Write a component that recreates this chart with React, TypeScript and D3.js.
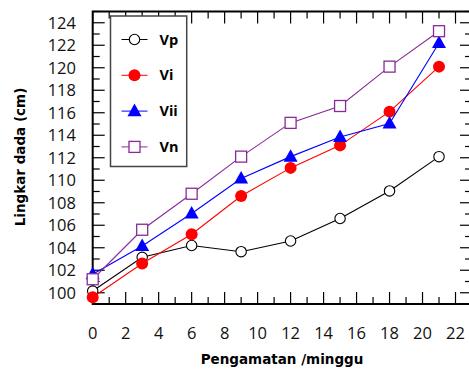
import { line, scaleLinear, range } from 'd3';

const weeks = [0, 3, 6, 9, 12, 15, 18, 21];
const vp = [100.15, 103.15, 104.2, 103.65, 104.6, 106.6, 109.05, 112.1];
const vi = [99.6, 102.6, 105.2, 108.6, 111.1, 113.1, 116.1, 120.1];
const vii = [101.65, 104.15, 107.05, 110.15, 112.1, 113.85, 115.05, 122.2];
const vn = [101.2, 105.6, 108.8, 112.1, 115.1, 116.6, 120.1, 123.25];
const seriesNames = ['Vp', 'Vi', 'Vii', 'Vn'];
const xTickLabels = [0, 2, 4, 6, 8, 10, 12, 14, 16, 18, 20, 22];
const yTickLabels = [100, 102, 104, 106, 108, 110, 112, 114, 116, 118, 120, 122, 124];

const width = 469;
const height = 372;
const plot = { left: 92.7, right: 472, top: 11.5, bottom: 304 };

const series = [
  { name: seriesNames[0], values: vp, color: '#000000', marker: 'openCircle' },
  { name: seriesNames[1], values: vi, color: '#ff0000', marker: 'dot' },
  { name: seriesNames[2], values: vii, color: '#0000ff', marker: 'triangle' },
  { name: seriesNames[3], values: vn, color: '#8a2a98', marker: 'square' },
];

function Marker({ kind, x, y, color }: { kind: string; x: number; y: number; color: string }) {
  if (kind === 'openCircle') {
    return <circle cx={x} cy={y} r={5.2} fill="#fff" stroke={color} strokeWidth={1.1} />;
  }
  if (kind === 'dot') {
    return <circle cx={x} cy={y} r={6} fill={color} />;
  }
  if (kind === 'triangle') {
    const s = 7;
    return <path d={`M${x},${y - s - 0.5}L${x + s},${y + s * 0.72}L${x - s},${y + s * 0.72}Z`} fill={color} />;
  }
  return <rect x={x - 5.5} y={y - 5.5} width={11} height={11} fill="#fff" stroke={color} strokeWidth={1.3} />;
}

export default function App() {
  const x = scaleLinear().domain([0, 23]).range([plot.left, plot.right]);
  const y = scaleLinear().domain([99, 125]).range([plot.bottom, plot.top]);

  const path = line<number>()
    .x((_, i) => x(weeks[i]))
    .y(d => y(d));

  const minorX = range(0, 24);
  const minorY = range(99, 126);

  return (
    <div style={{ position: 'absolute', left: 0, top: 0 }}>
      <svg width={width} height={height} style={{ display: 'block', background: '#fff' }}>
        {/* ticks on all four sides, pointing inward */}
        {minorX.map(t => {
          const len = t % 2 === 0 ? 12 : 7;
          return (
            <g key={`xt${t}`} stroke="#000" strokeWidth={1.2}>
              <line x1={x(t)} x2={x(t)} y1={plot.bottom} y2={plot.bottom - len} />
              <line x1={x(t)} x2={x(t)} y1={plot.top} y2={plot.top + len} />
            </g>
          );
        })}
        {minorY.map(t => {
          const len = t % 2 === 0 ? 12 : 7;
          return (
            <g key={`yt${t}`} stroke="#000" strokeWidth={1.2}>
              <line x1={plot.left} x2={plot.left + len} y1={y(t)} y2={y(t)} />
              <line x1={plot.right} x2={plot.right - len} y1={y(t)} y2={y(t)} />
            </g>
          );
        })}
        <rect x={plot.left} y={plot.top} width={plot.right - plot.left} height={plot.bottom - plot.top} fill="none" stroke="#000" strokeWidth={2} />

        {xTickLabels.map(t => (
          <text key={`xl${t}`} x={x(t)} y={339} textAnchor="middle" fontFamily="Open Sans" fontSize={16.5} fill="#111">
            {t}
          </text>
        ))}
        {yTickLabels.map(t => (
          <text key={`yl${t}`} x={76} y={y(t) + 6} textAnchor="end" fontFamily="Open Sans" fontSize={16.5} fill="#111">
            {t}
          </text>
        ))}

        {/* legend */}
        <rect x={110.5} y={16} width={76.2} height={150.5} fill="#fff" stroke="#444" strokeWidth={1.5} />
        {series.map((s, i) => {
          const ly = 39.5 + i * 35.8;
          return (
            <g key={`lg${s.name}`}>
              <line x1={121.5} x2={147.5} y1={ly} y2={ly} stroke={s.color} strokeWidth={1} />
              <Marker kind={s.marker} x={134.5} y={ly} color={s.color} />
              <text x={159.5} y={ly + 5} fontFamily="Open Sans" fontWeight="bold" fontSize={14.5} fill="#000">
                {s.name}
              </text>
            </g>
          );
        })}

        {series.map(s => (
          <g key={s.name}>
            <path d={path(s.values) ?? ''} fill="none" stroke={s.color} strokeWidth={1.1} />
            {s.values.map((v, i) => (
              <Marker key={i} kind={s.marker} x={x(weeks[i])} y={y(v)} color={s.color} />
            ))}
          </g>
        ))}

        <text x={282} y={364} textAnchor="middle" fontFamily="DejaVu Sans" fontWeight="bold" fontSize={13.5} fill="#000">
          Pengamatan /minggu
        </text>
        <text transform={`translate(25,157) rotate(-90)`} textAnchor="middle" fontFamily="DejaVu Sans" fontWeight="bold" fontSize={13.5} fill="#000">
          Lingkar dada (cm)
        </text>
      </svg>
    </div>
  );
}
